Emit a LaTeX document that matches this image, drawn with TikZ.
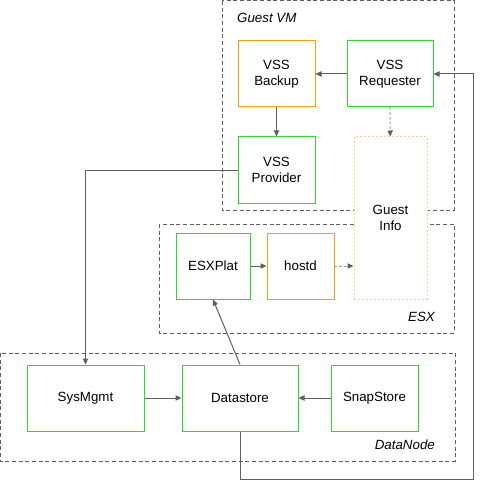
\documentclass[tikz,border=0pt]{standalone}
\usepackage{fontspec}
\setmainfont{Liberation Sans}
\usetikzlibrary{arrows.meta}
\definecolor{boxgreen}{HTML}{22E022}
\definecolor{boxorange}{HTML}{FF9C00}
\definecolor{infoorange}{HTML}{FFCF8A}
\definecolor{linegray}{HTML}{5F5F5F}
\definecolor{softgray}{HTML}{A0A0A0}
\begin{document}
\begin{tikzpicture}[x=0.75pt,y=-0.75pt,line width=0.75pt,
  every node/.style={align=center,inner sep=2pt,font=\fontsize{10pt}{12pt}\selectfont},
  comp/.style={draw=boxgreen,minimum height=49.5pt},
  hostcomp/.style={draw=boxorange,minimum height=49.5pt},
  group/.style={draw=linegray,dash pattern=on 3pt off 2pt},
  grouplabel/.style={font=\itshape\fontsize{10pt}{12pt}\selectfont},
  link/.style={draw=linegray,-{Triangle[length=4.5pt,width=4pt]}},
  softlink/.style={draw=softgray,dash pattern=on 2pt off 1.5pt,
    -{Triangle[length=4.5pt,width=4pt,color=linegray]}}]
\useasboundingbox (0,0) rectangle (479,481);
% groups
\draw[group] (222,1) rectangle (454,210);
\draw[group] (159,224) rectangle (454,333);
\draw[group] (0,353) rectangle (455,461);
\node[grouplabel,anchor=west] (vmlabel) at (234,18) {Guest VM};
\node[grouplabel,anchor=east] (esxlabel) at (438,317) {ESX};
\node[grouplabel,anchor=east] (dnlabel) at (438,445) {DataNode};
% guest VM
\node[hostcomp,minimum width=57.75pt] (backup) at (276.5,74) {VSS\\Backup};
\node[comp,minimum width=64.5pt] (requester) at (390,74) {VSS\\Requester};
\node[comp,minimum width=57.75pt] (provider) at (276.5,170) {VSS\\Provider};
\node[draw=infoorange,fill=white,dash pattern=on 1.5pt off 1.5pt,
  minimum width=54.75pt,minimum height=121.5pt] (guestinfo) at (390.5,218) {Guest\\Info};
% ESX
\node[comp,minimum width=55.5pt] (esxplat) at (213,266) {ESXPlat};
\node[hostcomp,minimum width=50.25pt] (hostd) at (300.5,266) {hostd};
% DataNode
\node[comp,minimum width=87.75pt] (sysmgmt) at (85.5,398) {SysMgmt};
\node[comp,minimum width=87pt] (datastore) at (240,398) {Datastore};
\node[comp,minimum width=65.25pt] (snapstore) at (374.5,398) {SnapStore};
\coordinate (loopend) at (473,479);
% connectors
\draw[link] (requester) -- (backup);
\draw[link] (backup) -- (provider);
\draw[softlink] (requester) -- (guestinfo);
\draw[link] (esxplat) -- (hostd);
\draw[softlink] (hostd.east) -- (hostd.east -| guestinfo.west);
\draw[link] (provider.west) -| (sysmgmt.north);
\draw[link] (sysmgmt) -- (datastore);
\draw[link] (snapstore) -- (datastore);
\draw[link] (datastore.north) -- (esxplat.south);
\draw[link] (datastore.south) |- (loopend) |- (requester.east);
\end{tikzpicture}
\end{document}
